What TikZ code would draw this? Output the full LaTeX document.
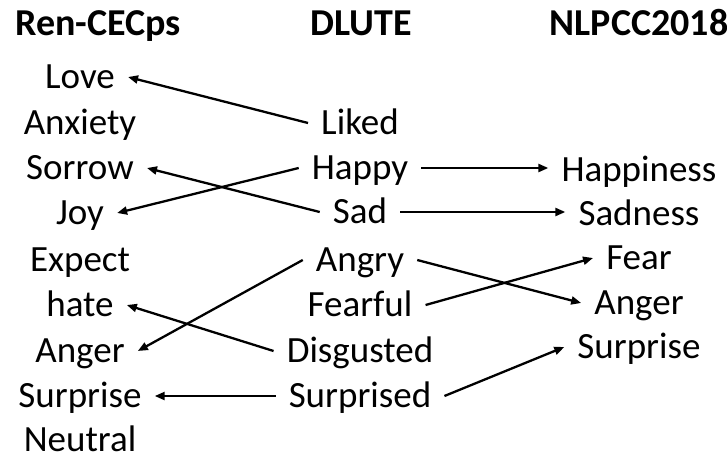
\documentclass[tikz,border=0pt]{standalone}
\usepackage{fontspec}
\setmainfont{Carlito}
\usetikzlibrary{arrows.meta}
\begin{document}
\begin{tikzpicture}[x=1pt,y=-1pt,
  lbl/.style={font=\fontsize{37}{44}\selectfont, text height=23.8pt, text depth=0pt,
              inner ysep=0pt, inner xsep=13pt, anchor=center},
  head/.style={lbl, font=\fontsize{38}{45}\selectfont\bfseries},
  link/.style={line width=2.3pt, -{Triangle[length=10pt,width=8pt]}}
]
\useasboundingbox (0,0) rectangle (727,458);

% column headings
\node[head] (hL) at (98,24)    {Ren-CECps};
\node[head] (hM) at (361.5,24) {DLUTE};
\node[head] (hR) at (639,24)   {NLPCC2018};

% Ren-CECps categories
\node[lbl] (love)    at (80,77)  {Love};
\node[lbl] (anxiety) at (80,123) {Anxiety};
\node[lbl] (sorrow)  at (80,168) {Sorrow};
\node[lbl] (joy)     at (80,213) {Joy};
\node[lbl] (expect)  at (80,260) {Expect};
\node[lbl] (hate)    at (80,305) {hate};
\node[lbl] (angerL)  at (80,351) {Anger};
\node[lbl] (surpL)   at (80,396) {Surprise};
\node[lbl] (neutral) at (80,440) {Neutral};

% DLUTE categories
\node[lbl] (liked)     at (360,123) {Liked};
\node[lbl] (happy)     at (360,168) {Happy};
\node[lbl] (sad)       at (360,212) {Sad};
\node[lbl] (angry)     at (360,260) {Angry};
\node[lbl] (fearful)   at (360,305) {Fearful};
\node[lbl] (disgusted) at (360,351) {Disgusted};
\node[lbl] (surprised) at (360,396) {Surprised};

% NLPCC2018 categories
\node[lbl] (happiness) at (639,170) {Happiness};
\node[lbl] (sadness)   at (639,214) {Sadness};
\node[lbl] (fear)      at (639,258) {Fear};
\node[lbl] (angerR)    at (639,303) {Anger};
\node[lbl] (surpR)     at (639,347) {Surprise};

% DLUTE -> Ren-CECps
\draw[link] (liked.west)     -- (love.east);
\draw[link] (happy.west)     -- (joy.east);
\draw[link] (sad.west)       -- (sorrow.east);
\draw[link] (angry.west)     -- (angerL.east);
\draw[link] (disgusted.west) -- (hate.east);
\draw[link] (surprised.west) -- (surpL.east);

% DLUTE -> NLPCC2018
\draw[link] (happy.east)     -- (happy.east -| happiness.west);
\draw[link] (sad.east)       -- (sad.east -| sadness.west);
\draw[link] (angry.east)     -- (angerR.west);
\draw[link] (fearful.east)   -- (fear.west);
\draw[link] (surprised.east) -- (surpR.west);
\end{tikzpicture}
\end{document}
